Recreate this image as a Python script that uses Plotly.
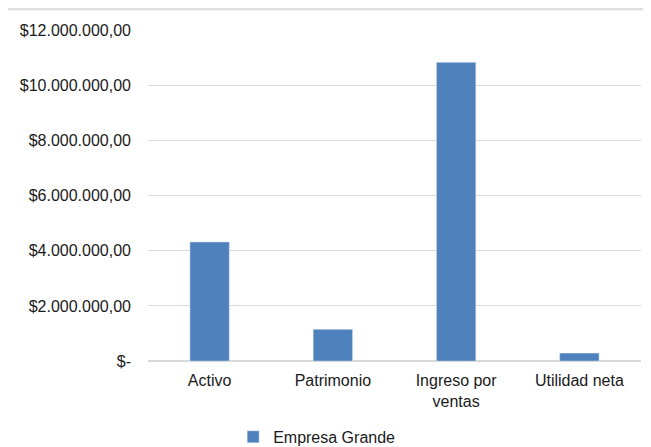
"""Bar chart: Empresa Grande financial figures."""

import plotly.graph_objects as go

categories = ["Activo", "Patrimonio", "Ingreso por<br>ventas", "Utilidad neta"]
values = [4320000, 1150000, 10830000, 290000]
tick_vals = [0, 2000000, 4000000, 6000000, 8000000, 10000000, 12000000]
tick_text = ["$-", "$2.000.000,00", "$4.000.000,00", "$6.000.000,00",
             "$8.000.000,00", "$10.000.000,00", "$12.000.000,00"]

fig = go.Figure()

fig.add_trace(go.Bar(
    x=categories,
    y=values,
    name="Empresa Grande",
    marker={"color": "#4f81bd"},
))

# page body has an 8px margin, so the figure is 8px smaller each way
fig.update_layout(
    width=643,
    height=439,
    margin={"l": 140, "r": 10, "t": 22, "b": 83},
    paper_bgcolor="white",
    plot_bgcolor="white",
    font={"family": "Liberation Sans, Arial, sans-serif", "size": 16, "color": "#1a1a1a"},
    bargap=0.68,
    showlegend=True,
    legend={
        "orientation": "h",
        "xref": "container",
        "yref": "container",
        "x": 0.48,
        "xanchor": "center",
        "y": 0.023,
        "yanchor": "middle",
        "itemwidth": 30,
        "font": {"size": 16},
    },
    shapes=[{
        "type": "line",
        "xref": "paper",
        "yref": "paper",
        "x0": -0.3,
        "x1": 1.03,
        "y0": 1.063,
        "y1": 1.063,
        "line": {"color": "#d9d9d9", "width": 2},
    }],
)

fig.update_xaxes(
    showgrid=False,
    showline=False,
    ticks="",
    ticklabelstandoff=8,
    tickfont={"size": 16},
)

fig.update_yaxes(
    range=[0, 12000000],
    tickvals=tick_vals,
    ticktext=tick_text,
    showgrid=True,
    gridcolor="#d9d9d9",
    gridwidth=1,
    zeroline=True,
    zerolinecolor="#d9d9d9",
    showline=False,
    ticks="",
    ticklabelstandoff=16,
    tickfont={"size": 16},
)

fig.write_html("out.html")
